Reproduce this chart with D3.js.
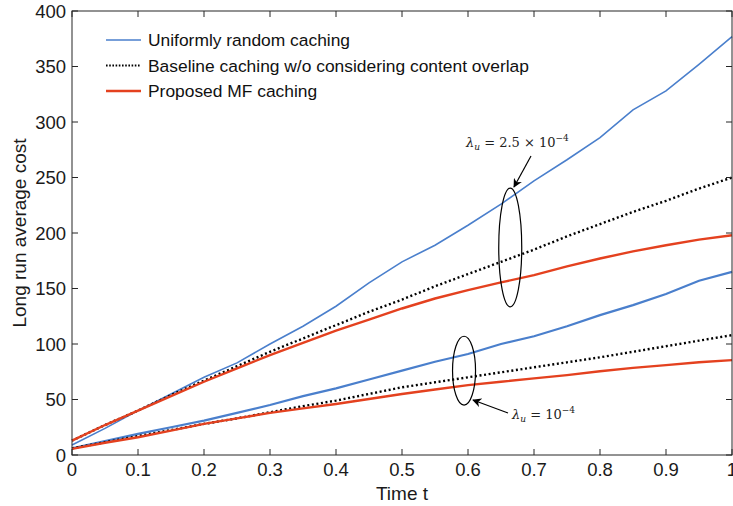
<!DOCTYPE html>
<html>
<head>
<meta charset="utf-8">
<script src="https://cdn.jsdelivr.net/npm/d3@7/dist/d3.min.js"></script>
<style>
  body { margin: 0; background: #fff; }
  svg { display: block; font-family: "Liberation Sans", Arial, sans-serif; }
</style>
</head>
<body>
<svg id="chart" width="733" height="506"></svg>
<script>
// Time samples
const times = [0, 0.05, 0.1, 0.15, 0.2, 0.25, 0.3, 0.35, 0.4, 0.45, 0.5,
               0.55, 0.6, 0.65, 0.7, 0.75, 0.8, 0.85, 0.9, 0.95, 1.0];

// lambda_u = 2.5e-4
const uniformHigh  = [9, 24, 40, 55, 70, 83, 100, 116, 134, 155, 174,
                      189, 207, 226, 247, 266, 286, 311, 328, 352, 377];
const baselineHigh = [13, 27, 40, 54, 67, 80, 93, 105, 117, 129, 140,
                      152, 163, 174, 185, 197, 208, 219, 229, 240, 250];
const proposedHigh = [13, 27, 40, 53, 66, 78, 90, 101, 112, 122, 132,
                      141, 148.5, 155.5, 162, 170, 177, 183.5, 189, 194, 198];

// lambda_u = 1e-4
const uniformLow  = [6, 12.5, 19, 25, 31, 38, 45, 53, 60, 68, 76,
                     84, 91, 100, 107, 116, 126, 135, 145, 157, 165];
const baselineLow = [6, 11.5, 17, 22.5, 28, 33, 38.5, 44, 49, 55, 61,
                     65.5, 70, 74.5, 79, 83.5, 88, 93, 98, 103, 108];
const proposedLow = [5.5, 11, 16, 22, 28, 33, 38, 42, 46, 50.5, 55,
                     59, 63, 66, 69, 72, 75.5, 78.5, 81, 83.5, 85.5];

const xTicks = [0, 0.1, 0.2, 0.3, 0.4, 0.5, 0.6, 0.7, 0.8, 0.9, 1];
const yTicks = [0, 50, 100, 150, 200, 250, 300, 350, 400];

const legendLabels = [
  "Uniformly random caching",
  "Baseline caching w/o considering content overlap",
  "Proposed MF caching"
];

const BLUE = "#4a7fcc", RED = "#e4411f", BLACK = "#000";

const svg = d3.select("#chart");
const margin = { left: 72, right: 1, top: 11, bottom: 51 };
const W = 733, H = 506;

const x = d3.scaleLinear().domain([0, 1]).range([margin.left, W - margin.right]);
const y = d3.scaleLinear().domain([0, 400]).range([H - margin.bottom, margin.top]);

const axisColor = "#262626";
const tickLen = 6;

// Series lines
const line = d3.line().x((d, i) => x(times[i])).y(d => y(d));
const series = [
  { data: uniformHigh, color: BLUE, width: 1.6, dash: null },
  { data: uniformLow, color: BLUE, width: 2.2, dash: null },
  { data: baselineHigh, color: BLACK, width: 2.4, dash: "2,2.6" },
  { data: baselineLow, color: BLACK, width: 2.4, dash: "2,2.6" },
  { data: proposedHigh, color: RED, width: 2.4, dash: null },
  { data: proposedLow, color: RED, width: 2.4, dash: null }
];
const plot = svg.append("g");
plot.selectAll("path.series").data(series).join("path")
  .attr("class", "series")
  .attr("fill", "none")
  .attr("stroke", d => d.color)
  .attr("stroke-width", d => d.width)
  .attr("stroke-dasharray", d => d.dash)
  .attr("d", d => line(d.data));

// Box and inward ticks on all four sides
const box = svg.append("g").attr("stroke", axisColor).attr("stroke-width", 1).attr("fill", "none");
box.append("rect")
  .attr("x", x(0)).attr("y", y(400))
  .attr("width", x(1) - x(0)).attr("height", y(0) - y(400));
xTicks.forEach(t => {
  box.append("line").attr("x1", x(t)).attr("x2", x(t)).attr("y1", y(0)).attr("y2", y(0) - tickLen);
  box.append("line").attr("x1", x(t)).attr("x2", x(t)).attr("y1", y(400)).attr("y2", y(400) + tickLen);
});
yTicks.forEach(v => {
  box.append("line").attr("x1", x(0)).attr("x2", x(0) + tickLen).attr("y1", y(v)).attr("y2", y(v));
  box.append("line").attr("x1", x(1)).attr("x2", x(1) - tickLen).attr("y1", y(v)).attr("y2", y(v));
});

// Tick labels
const tickFont = 18.5;
svg.append("g").selectAll("text").data(xTicks).join("text")
  .attr("x", d => x(d)).attr("y", y(0) + 21)
  .attr("text-anchor", "middle").attr("font-size", tickFont).attr("fill", "#1a1a1a")
  .text(d => d3.format("")(d));
svg.append("g").selectAll("text").data(yTicks).join("text")
  .attr("x", x(0) - 6).attr("y", d => y(d) + 6.5)
  .attr("text-anchor", "end").attr("font-size", tickFont).attr("fill", "#1a1a1a")
  .text(d => d);

// Axis titles
svg.append("text").attr("x", (x(0) + x(1)) / 2).attr("y", 500)
  .attr("text-anchor", "middle").attr("font-size", 19).attr("fill", "#1a1a1a")
  .text("Time t");
svg.append("text")
  .attr("transform", `translate(26,${(y(0) + y(400)) / 2}) rotate(-90)`)
  .attr("text-anchor", "middle").attr("font-size", 19).attr("fill", "#1a1a1a")
  .text("Long run average cost");

// Legend
const legend = svg.append("g");
const legendStyles = [
  { color: BLUE, width: 1.6, dash: null },
  { color: BLACK, width: 2, dash: "1.6,1.6" },
  { color: RED, width: 2.4, dash: null }
];
legendLabels.forEach((label, i) => {
  const ly = 40 + i * 25.5;
  legend.append("line").attr("x1", 106).attr("x2", 141).attr("y1", ly).attr("y2", ly)
    .attr("stroke", legendStyles[i].color).attr("stroke-width", legendStyles[i].width)
    .attr("stroke-dasharray", legendStyles[i].dash);
  legend.append("text").attr("x", 148).attr("y", ly + 6)
    .attr("font-size", 17.4).attr("fill", "#111").text(label);
});

// Annotations: ellipses marking each curve group, with arrows and lambda labels
const defs = svg.append("defs");
defs.append("marker").attr("id", "arrow").attr("viewBox", "0 0 10 10")
  .attr("refX", 9).attr("refY", 5).attr("markerWidth", 9).attr("markerHeight", 9)
  .attr("markerUnits", "userSpaceOnUse").attr("orient", "auto")
  .append("path").attr("d", "M0,0 L10,5 L0,10 L3,5 Z").attr("fill", "#000");

const ann = svg.append("g").attr("fill", "none").attr("stroke", "#000").attr("stroke-width", 1.2);
// lambda_u = 2.5e-4 group
ann.append("ellipse").attr("cx", x(0.664)).attr("cy", y(187))
  .attr("rx", 11.5).attr("ry", y(0) - y(53.5));
ann.append("line").attr("x1", 531).attr("y1", 156).attr("x2", 514).attr("y2", 187)
  .attr("marker-end", "url(#arrow)");
// lambda_u = 1e-4 group
ann.append("ellipse").attr("cx", x(0.594)).attr("cy", y(76))
  .attr("rx", 11.5).attr("ry", y(0) - y(31));
ann.append("line").attr("x1", 508).attr("y1", 413).attr("x2", 473).attr("y2", 400)
  .attr("marker-end", "url(#arrow)");

function lambdaLabel(xp, yp, mant) {
  const t = svg.append("text").attr("x", xp).attr("y", yp)
    .attr("font-family", "'DejaVu Serif', 'Liberation Serif', serif")
    .attr("font-size", 13).attr("fill", "#222");
  t.append("tspan").attr("font-style", "italic").text("λ");
  t.append("tspan").attr("font-style", "italic").attr("font-size", 9).attr("dy", 3).text("u");
  t.append("tspan").attr("dy", -3).text(" = " + mant + "10");
  t.append("tspan").attr("font-size", 9).attr("dy", -6).text("−4");
}
lambdaLabel(466, 147, "2.5 × ");
lambdaLabel(512, 419, "");
</script>
</body>
</html>
